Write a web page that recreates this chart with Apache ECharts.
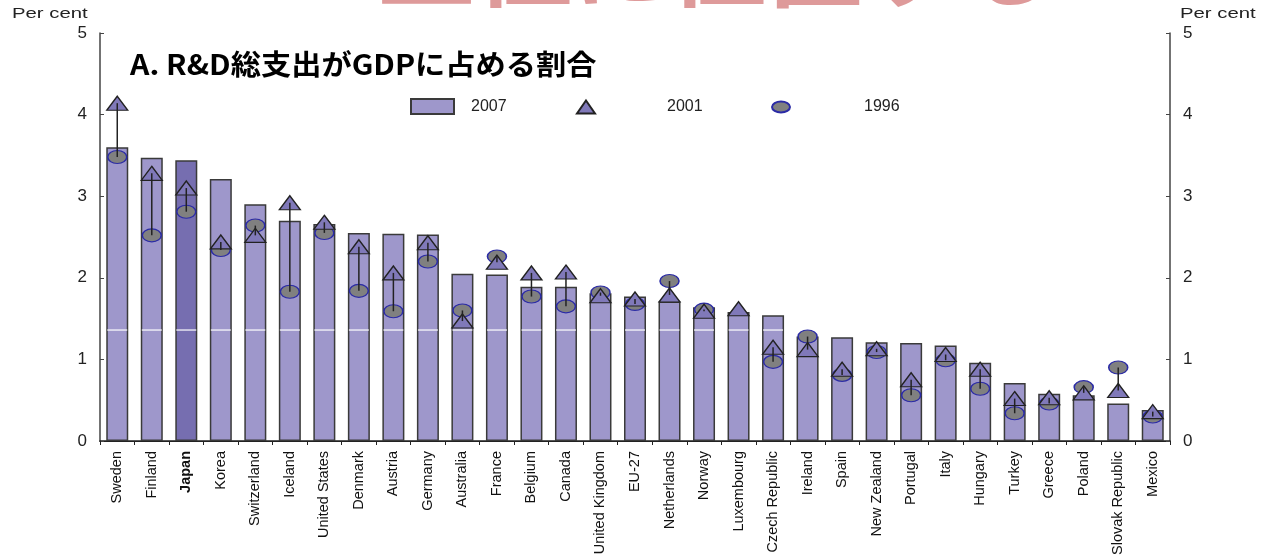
<!DOCTYPE html>
<html>
<head>
<meta charset="utf-8">
<script src="https://cdn.jsdelivr.net/npm/echarts@6/dist/echarts.min.js"></script>
<style>
  html, body { margin: 0; padding: 0; background: #fff; }
  #chart { width: 1265px; height: 555px; }
</style>
</head>
<body>
<div id="chart"></div>
<script>
// 国名
const countries = ['Sweden', 'Finland', 'Japan', 'Korea', 'Switzerland', 'Iceland', 'United States',
  'Denmark', 'Austria', 'Germany', 'Australia', 'France', 'Belgium', 'Canada', 'United Kingdom',
  'EU-27', 'Netherlands', 'Norway', 'Luxembourg', 'Czech Republic', 'Ireland', 'Spain',
  'New Zealand', 'Portugal', 'Italy', 'Hungary', 'Turkey', 'Greece', 'Poland', 'Slovak Republic', 'Mexico']

// 2007（棒）
const v2007 = [3.60, 3.47, 3.44, 3.21, 2.90, 2.70, 2.66, 2.55, 2.54, 2.53, 2.05, 2.04, 1.89, 1.89, 1.81,
  1.77, 1.71, 1.64, 1.58, 1.54, 1.28, 1.27, 1.21, 1.20, 1.17, 0.96, 0.71, 0.58, 0.56, 0.46, 0.38]

// 2001（三角）
const v2001 = [4.14, 3.28, 3.10, 2.44, 2.52, 2.92, 2.68, 2.38, 2.06, 2.43, 1.47, 2.19, 2.06, 2.07, 1.78,
  1.74, 1.79, 1.59, 1.62, 1.15, 1.12, 0.88, 1.13, 0.75, 1.06, 0.88, 0.52, 0.53, 0.59, 0.62, 0.36]

// 1996（丸）
const v1996 = [3.48, 2.52, 2.81, 2.34, 2.64, 1.83, 2.55, 1.84, 1.59, 2.20, 1.60, 2.26, 1.77, 1.65, 1.82,
  1.68, 1.96, 1.61, null, 0.97, 1.28, 0.81, 1.09, 0.56, 0.99, 0.64, 0.34, 0.46, 0.66, 0.90, 0.30]

const whiteLineValue = 1.36
const highlight = 'Japan'

const ellipse = 'path://M0,6A10,6 0 1,0 20,6A10,6 0 1,0 0,6Z'

const chart = echarts.init(document.getElementById('chart'))

const barData = v2007.map((v, i) => countries[i] === highlight
  ? { value: v, itemStyle: { color: '#766eb0' } }
  : v)

const linkData = countries
  .map((c, i) => [i, v1996[i], v2001[i]])
  .filter(d => d[1] != null && d[2] != null)

const axisFont = { fontFamily: 'Liberation Sans, Arial, sans-serif', fontSize: 17, color: '#222' }
const legendText = pad => ({ fontFamily: 'Liberation Sans', fontSize: 16, color: '#222', padding: [0, 0, 0, pad] })

const option = {
  animation: false,
  legend: [
    {
      data: [{ name: '2007', icon: 'rect' }],
      left: 405, top: 93, itemWidth: 43, itemHeight: 15,
      textStyle: legendText(12)
    },
    {
      data: [{ name: '2001', icon: 'triangle' }],
      left: 571, top: 94, itemWidth: 18, itemHeight: 13,
      textStyle: legendText(67)
    },
    {
      data: [{ name: '1996', icon: ellipse }],
      left: 766, top: 94, itemWidth: 18, itemHeight: 13,
      textStyle: legendText(69)
    }
  ],
  grid: { left: 100, right: 95, top: 33, bottom: 114, outerBoundsMode: 'none' },
  xAxis: [
    {
      type: 'category',
      data: countries,
      axisLine: { lineStyle: { color: '#222', width: 1.5 } },
      axisTick: { show: true, length: 4, lineStyle: { color: '#222' } },
      axisLabel: {
        interval: 0,
        rotate: 90,
        margin: 10,
        fontFamily: 'Liberation Sans, Arial, sans-serif',
        fontSize: 14.5,
        color: '#111',
        formatter: v => v === highlight ? '{b|' + v + '}' : v,
        rich: { b: { fontWeight: 'bold', fontFamily: 'Liberation Sans, Arial, sans-serif', fontSize: 14.5, color: '#111' } }
      }
    },
    {
      type: 'category',
      position: 'top',
      data: countries,
      axisLine: { lineStyle: { color: '#222', width: 1.2 } },
      axisTick: { show: false },
      axisLabel: { show: false }
    }
  ],
  yAxis: [
    {
      type: 'value', min: 0, max: 5, interval: 1,
      axisLine: { show: true, lineStyle: { color: '#444', width: 1.5 } },
      axisTick: { show: true, inside: true, length: 4, lineStyle: { color: '#444' } },
      axisLabel: Object.assign({ margin: 13 }, axisFont),
      splitLine: { show: false }
    },
    {
      type: 'value', min: 0, max: 5, interval: 1, position: 'right',
      axisLine: { show: true, lineStyle: { color: '#444', width: 1.5 } },
      axisTick: { show: true, inside: true, length: 4, lineStyle: { color: '#444' } },
      axisLabel: Object.assign({ margin: 13 }, axisFont),
      splitLine: { show: false }
    }
  ],
  graphic: [
    { type: 'text', x: 12, y: 7, scaleX: 1.45, style: { text: 'Per cent', fontFamily: 'Liberation Sans', fontSize: 14, fill: '#222' } },
    { type: 'text', x: 1180, y: 7, scaleX: 1.45, style: { text: 'Per cent', fontFamily: 'Liberation Sans', fontSize: 14, fill: '#222' } },
    { type: 'text', x: 130, y: 50, scaleX: 1.08, style: { text: 'A. R&D総支出がGDPに占める割合', fontFamily: 'Noto Sans CJK JP', fontWeight: 'bold', fontSize: 28, fill: '#000' } },
    { type: 'text', x: 378, y: -86, z: -1, style: { text: '上位に位置する', fontFamily: 'Noto Sans CJK JP', fontWeight: 'bold', fontSize: 97, fill: '#de9a9a' } }
  ],
  series: [
    {
      name: '2007',
      type: 'bar',
      data: barData,
      barWidth: 22,
      itemStyle: { color: '#9e97cb', borderColor: '#3a3a3a', borderWidth: 1.5 },
      z: 2
    },
    {
      // 棒の中の白い線
      type: 'custom',
      data: v2007.map((v, i) => [i, v]),
      z: 3,
      silent: true,
      renderItem: (params, api) => {
        if (api.value(1) <= whiteLineValue) return null
        const p = api.coord([api.value(0), whiteLineValue])
        return {
          type: 'line',
          shape: { x1: p[0] - 10, y1: p[1], x2: p[0] + 10, y2: p[1] },
          style: { stroke: '#fff', lineWidth: 1.2 }
        }
      }
    },
    {
      name: '1996',
      type: 'scatter',
      data: v1996.map(v => v == null ? '-' : v),
      symbol: ellipse,
      symbolSize: [19, 13],
      itemStyle: { color: '#808080', borderColor: '#2b2ba6', borderWidth: 1.3, opacity: 1 },
      z: 4
    },
    {
      name: '2001',
      type: 'scatter',
      data: v2001,
      symbol: 'triangle',
      symbolSize: [21, 14],
      itemStyle: { color: '#8079b9', borderColor: '#222', borderWidth: 1.3, opacity: 1 },
      z: 5
    },
    {
      // 1996 → 2001 の矢印線
      type: 'custom',
      data: linkData,
      z: 6,
      silent: true,
      renderItem: (params, api) => {
        const a = api.coord([api.value(0), api.value(1)])
        const b = api.coord([api.value(0), api.value(2)])
        return {
          type: 'line',
          shape: { x1: a[0], y1: a[1], x2: b[0], y2: b[1] },
          style: { stroke: '#222', lineWidth: 1.5 }
        }
      }
    }
  ]
}

chart.setOption(option)
</script>
</body>
</html>
